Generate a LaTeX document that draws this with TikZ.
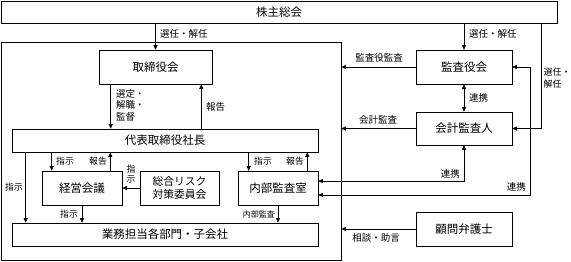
\documentclass[tikz,border=0pt]{standalone}
\usepackage{fontspec}
\setmainfont{Noto Sans CJK JP}
\usetikzlibrary{arrows.meta}
\begin{document}
\begin{tikzpicture}[x=1pt,y=-1pt,
  box/.style={draw, line width=0.6pt, inner sep=0pt, font={\fontsize{11.5}{13}\selectfont}, align=center},
  lbl/.style={inner sep=0pt, font={\fontsize{9.5}{11}\selectfont}, align=left},
  slbl/.style={inner sep=0pt, font={\fontsize{8.8}{11}\selectfont}, align=left},
  arr/.style={line width=0.6pt, -{Triangle[length=4.5pt,width=4pt]}},
  arrb/.style={line width=0.6pt, {Triangle[length=4.5pt,width=4pt]}-{Triangle[length=4.5pt,width=4pt]}}]
\useasboundingbox (0,0) rectangle (571,262);
% boxes
\node[box, minimum width=556pt, minimum height=22pt] (top) at (279,12) {株主総会};
\node[draw, line width=0.6pt, inner sep=0pt, minimum width=340pt, minimum height=218pt] (company) at (171,151) {};
\node[box, minimum width=113pt, minimum height=34pt] (bod) at (155.5,67) {取締役会};
\node[box, minimum width=306pt, minimum height=23pt] (ceo) at (165,140.5) {代表取締役社長};
\node[box, minimum width=80pt, minimum height=34pt] (mgmt) at (82,188) {経営会議};
\node[box, minimum width=79pt, minimum height=34pt, font={\fontsize{10.8}{13}\selectfont}] (risk) at (179.5,188) {総合リスク\\対策委員会};
\node[box, minimum width=80pt, minimum height=34pt] (audit) at (278,188) {内部監査室};
\node[box, minimum width=306pt, minimum height=23pt] (ops) at (165,234.5) {業務担当各部門・子会社};
\node[box, minimum width=96pt, minimum height=34pt] (kansa) at (464,67) {監査役会};
\node[box, minimum width=96pt, minimum height=33pt] (acct) at (464,128.5) {会計監査人};
\node[box, minimum width=96pt, minimum height=34pt] (lawyer) at (464,229) {顧問弁護士};
% helper coordinates
\coordinate (c541) at (541,0);
\coordinate (j2) at (530,195);
% top -> bod
\draw[arr] (top.south -| bod) -- (bod.north);
\node[lbl, anchor=west] (l1) at (160,34) {選任・解任};
% bod <-> ceo
\draw[arr] ([xshift=12pt]bod.south west) -- ([xshift=12pt]bod.south west |- ceo.north);
\node[lbl, anchor=north west, font={\fontsize{9.5}{11.5}\selectfont}] (l2) at (116,89) {選定・\\解職・\\監督};
\draw[arr] ([xshift=-11pt]bod.south east |- ceo.north) -- ([xshift=-11pt]bod.south east);
\node[lbl, anchor=west] (l3) at (206,107) {報告};
% ceo <-> mgmt
\draw[arr] ([xshift=10pt]mgmt.north west |- ceo.south) -- ([xshift=10pt]mgmt.north west);
\node[slbl, anchor=west] (l4) at (56,161) {指示};
\draw[arr] ([xshift=-12pt]mgmt.north east) -- ([xshift=-12pt]mgmt.north east |- ceo.south);
\node[slbl, anchor=east] (l5) at (107,161) {報告};
% risk -> mgmt
\draw[arr] (risk.west) -- (mgmt.east);
\node[slbl, anchor=center, align=center, font={\fontsize{8.8}{9.5}\selectfont}] (l6) at (131,174) {指\\示};
% ceo <-> audit
\draw[arr] ([xshift=11pt]audit.north west |- ceo.south) -- ([xshift=11pt]audit.north west);
\node[slbl, anchor=west] (l7) at (254,161) {指示};
\draw[arr] ([xshift=-11pt]audit.north east) -- ([xshift=-11pt]audit.north east |- ceo.south);
\node[slbl, anchor=east] (l8) at (304,161) {報告};
% ceo -> ops
\draw[arr] ([xshift=14pt]ceo.south west) -- ([xshift=14pt]ceo.south west |- ops.north);
\node[slbl, anchor=east] (l9) at (23,187) {指示};
% mgmt -> ops
\draw[arr] (mgmt.south) -- (mgmt.south |- ops.north);
\node[slbl, anchor=east] (l10) at (78,214) {指示};
% audit -> ops
\draw[arr] (audit.south) -- (audit.south |- ops.north);
\node[slbl, anchor=east, font={\fontsize{8}{10}\selectfont}] (l11) at (275,214) {内部監査};
% top -> kansa
\draw[arr] (top.south -| kansa) -- (kansa.north);
\node[lbl, anchor=west] (l12) at (469,34) {選任・解任};
% kansa -> company
\draw[arr] (kansa.west) -- (kansa.west -| company.east);
\node[lbl] (l13) at (379,58) {監査役監査};
% kansa <-> acct
\draw[arrb] (kansa.south) -- (acct.north);
\node[lbl, anchor=west] (l14) at (469,98) {連携};
% acct -> company
\draw[arr] (acct.west) -- (acct.west -| company.east);
\node[lbl] (l15) at (378,120) {会計監査};
% top -> acct (選任・解任)
\draw[arr] (top.south -| c541) |- (acct.east);
\node[lbl, anchor=west, font={\fontsize{9}{11.5}\selectfont}] (l16) at (543.5,78) {選任・\\解任};
% kansa <-> audit
\draw[arrb] (kansa.east) -| (j2) -- (audit.east |- j2);
\node[lbl, anchor=east] (l17) at (526,187) {連携};
% acct <-> audit
\draw[arrb] (acct.south) |- ([yshift=7pt]audit.east);
\node[lbl, anchor=east] (l18) at (460,174) {連携};
% lawyer -> company
\draw[arr] (lawyer.west) -- (lawyer.west -| company.east);
\node[lbl] (l19) at (376,238) {相談・助言};
\end{tikzpicture}
\end{document}
